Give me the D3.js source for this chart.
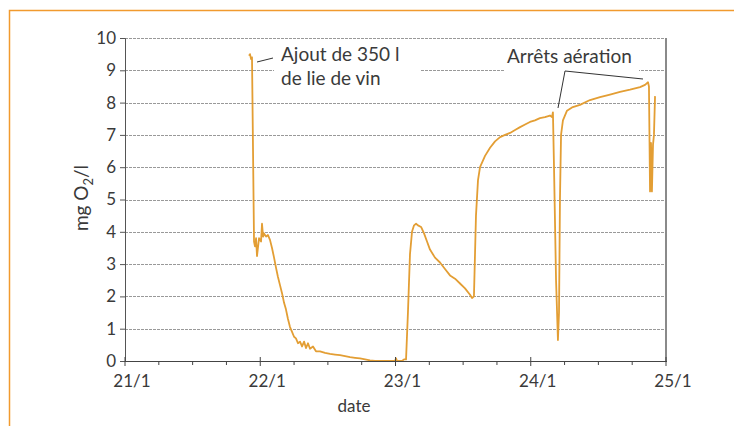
<!DOCTYPE html>
<html>
<head>
<meta charset="utf-8">
<script src="https://cdn.jsdelivr.net/npm/d3@7"></script>
<style>
  body { margin: 0; background: #fff; }
  text { font-family: Lato, "Open Sans", sans-serif; fill: #3a3a3a; }
</style>
</head>
<body>
<svg id="chart" width="734" height="426"></svg>
<script>
// Data (day of January, O2 in mg/l)
const days = [
  21.917, 21.924, 21.932, 21.939, 21.954, 21.961, 21.969, 21.976, 21.991, 22.006,
  22.013, 22.021, 22.028, 22.043, 22.057, 22.072, 22.087, 22.102, 22.116, 22.131,
  22.146, 22.161, 22.176, 22.19, 22.205, 22.22, 22.235, 22.25, 22.264, 22.279,
  22.294, 22.309, 22.324, 22.338, 22.353, 22.368, 22.39, 22.412, 22.442, 22.479,
  22.516, 22.553, 22.59, 22.627, 22.664, 22.701, 22.738, 22.775, 22.811, 22.848,
  22.996, 23.004, 23.011, 23.048, 23.063, 23.078, 23.092, 23.107, 23.122, 23.137,
  23.152, 23.166, 23.189, 23.211, 23.233, 23.255, 23.292, 23.329, 23.366, 23.403,
  23.44, 23.477, 23.514, 23.551, 23.566, 23.58, 23.595, 23.61, 23.625, 23.662,
  23.699, 23.736, 23.773, 23.81, 23.847, 23.884, 23.921, 23.958, 23.994, 24.031,
  24.068, 24.105, 24.142, 24.157, 24.164, 24.172, 24.187, 24.201, 24.209, 24.216,
  24.224, 24.238, 24.268, 24.305, 24.364, 24.438, 24.512, 24.586, 24.66, 24.734,
  24.808, 24.845, 24.867, 24.874, 24.882, 24.889, 24.896, 24.904, 24.911, 24.919
];
const o2 = [
  9.45, 9.5, 9.35, 9.4, 3.7, 3.55, 3.8, 3.25, 3.8, 3.7,
  4.25, 3.85, 3.95, 3.85, 3.9, 3.75, 3.5, 3.2, 2.9, 2.6,
  2.35, 2.1, 1.8, 1.6, 1.3, 1.05, 0.9, 0.75, 0.7, 0.55,
  0.6, 0.45, 0.6, 0.4, 0.55, 0.38, 0.45, 0.3, 0.3, 0.25,
  0.22, 0.2, 0.18, 0.15, 0.12, 0.1, 0.08, 0.05, 0.02, 0,
  0, 0.08, 0, 0, 0.05, 0.05, 1.5, 3.3, 4.0, 4.2,
  4.25, 4.2, 4.15, 3.95, 3.7, 3.45, 3.2, 3.05, 2.85, 2.65,
  2.55, 2.4, 2.25, 2.05, 1.95, 2.0, 4.5, 5.6, 6.0, 6.35,
  6.6, 6.8, 6.93, 7.0, 7.06, 7.15, 7.24, 7.32, 7.4, 7.45,
  7.52, 7.55, 7.6, 7.55, 7.7, 6.0, 2.5, 0.65, 1.5, 5.0,
  7.0, 7.45, 7.75, 7.85, 7.93, 8.08, 8.17, 8.25, 8.33, 8.4,
  8.48, 8.55, 8.63, 8.5, 5.25, 6.75, 5.25, 6.7, 7.0, 8.2
];
const xTicks = [21, 22, 23, 24, 25];
const xTickLabels = ["21/1", "22/1", "23/1", "24/1", "25/1"];
const yTicks = [0, 1, 2, 3, 4, 5, 6, 7, 8, 9, 10];

const svg = d3.select("#chart");
const plot = { left: 125, right: 666, top: 38, bottom: 361 };

const x = d3.scaleLinear().domain([21, 25]).range([plot.left, plot.right]);
const y = d3.scaleLinear().domain([0, 10]).range([plot.bottom, plot.top]);

// Orange frame
svg.append("path")
  .attr("d", "M9.5,426 L9.5,10.5 L734,10.5")
  .attr("fill", "none")
  .attr("stroke", "#f19a2e")
  .attr("stroke-width", 1.5);

// Grid lines
svg.append("g")
  .selectAll("line")
  .data(yTicks.filter((d) => d > 0))
  .join("line")
  .attr("x1", plot.left)
  .attr("x2", plot.right)
  .attr("y1", (d) => Math.round(y(d)) + 0.5)
  .attr("y2", (d) => Math.round(y(d)) + 0.5)
  .attr("stroke", "#999")
  .attr("stroke-width", 1)
  .attr("stroke-dasharray", "3,1");

// Right border
svg.append("line")
  .attr("x1", plot.right)
  .attr("x2", plot.right)
  .attr("y1", plot.top)
  .attr("y2", plot.bottom)
  .attr("stroke", "#8a8a8a")
  .attr("stroke-width", 2);

// Data line
const line = d3.line()
  .x((d, i) => x(days[i]))
  .y((d) => y(d));

svg.append("path")
  .datum(o2)
  .attr("d", line)
  .attr("fill", "none")
  .attr("stroke", "#e39e34")
  .attr("stroke-width", 1.8)
  .attr("stroke-linejoin", "round");

// Y axis
const yAxis = svg.append("g")
  .attr("transform", `translate(${plot.left},0)`)
  .call(d3.axisLeft(y).tickValues(yTicks).tickSize(5).tickPadding(4).tickFormat(d3.format("d")));
yAxis.select(".domain").attr("stroke", "#555");
yAxis.selectAll(".tick line").attr("stroke", "#555");
yAxis.selectAll("text")
  .style("font-size", "17px")
  .attr("fill", "#3a3a3a");

// X axis, minor ticks every 6 h
const xAxisG = svg.append("g").attr("transform", `translate(0,${plot.bottom})`);
xAxisG.append("line")
  .attr("x1", plot.left)
  .attr("x2", plot.right + 1)
  .attr("y1", 0.5)
  .attr("y2", 0.5)
  .attr("stroke", "#444")
  .attr("stroke-width", 1.2);
xAxisG.selectAll("line.minor")
  .data(d3.range(21, 25.01, 0.25))
  .join("line")
  .classed("minor", true)
  .attr("x1", (d) => x(d))
  .attr("x2", (d) => x(d))
  .attr("y1", (d) => (Number.isInteger(d) ? -4 : 0))
  .attr("y2", (d) => (Number.isInteger(d) ? 5 : 4))
  .attr("stroke", "#444");
xAxisG.selectAll("text")
  .data(xTicks)
  .join("text")
  .attr("x", (d) => x(d) + 7)
  .attr("y", 26)
  .attr("text-anchor", "middle")
  .style("font-size", "17px")
  .text((d, i) => xTickLabels[i]);

// Axis titles
svg.append("text")
  .attr("x", 354)
  .attr("y", 412)
  .attr("text-anchor", "middle")
  .style("font-size", "17px")
  .text("date");

const yTitle = svg.append("text")
  .attr("transform", "translate(88,198) rotate(-90)")
  .attr("text-anchor", "middle")
  .style("font-size", "19px");
yTitle.append("tspan").text("mg O");
yTitle.append("tspan").attr("dy", 5).style("font-size", "13px").text("2");
yTitle.append("tspan").attr("dy", -5).text("/l");

// Annotations
svg.append("rect").attr("x", 274).attr("y", 42).attr("width", 146).attr("height", 50).attr("fill", "#fff");
svg.append("rect").attr("x", 505).attr("y", 42).attr("width", 134).attr("height", 32).attr("fill", "#fff");

const ann = svg.append("g").style("font-size", "19px");
ann.append("text").attr("x", 281).attr("y", 61).text("Ajout de 350 l");
ann.append("text").attr("x", 281).attr("y", 85).text("de lie de vin");
ann.append("text").attr("x", 507).attr("y", 63).text("Arrêts aération");

svg.append("path")
  .attr("d", "M257,62 L273,58 M558,108 L565,71 L643,79")
  .attr("fill", "none")
  .attr("stroke", "#333")
  .attr("stroke-width", 1);
</script>
</body>
</html>
